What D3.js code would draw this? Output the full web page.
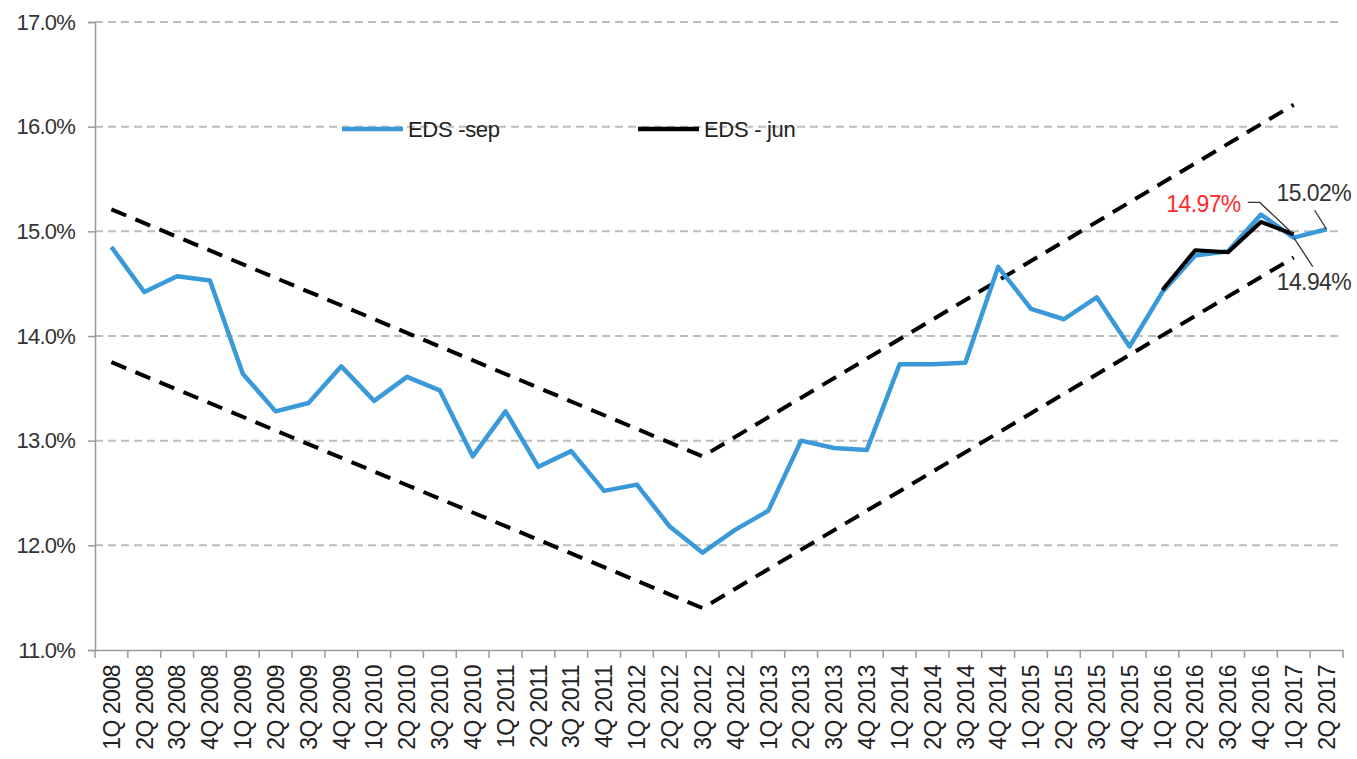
<!DOCTYPE html>
<html>
<head>
<meta charset="utf-8">
<script src="https://cdn.jsdelivr.net/npm/d3@7"></script>
<style>
    body { margin: 0; background: #fff; }
    svg { font-family: "Liberation Sans", Arial, sans-serif; }
</style>
</head>
<body>
<svg width="1357" height="759"></svg>
<script>
const quarters = [
    "1Q 2008", "2Q 2008", "3Q 2008", "4Q 2008",
    "1Q 2009", "2Q 2009", "3Q 2009", "4Q 2009",
    "1Q 2010", "2Q 2010", "3Q 2010", "4Q 2010",
    "1Q 2011", "2Q 2011", "3Q 2011", "4Q 2011",
    "1Q 2012", "2Q 2012", "3Q 2012", "4Q 2012",
    "1Q 2013", "2Q 2013", "3Q 2013", "4Q 2013",
    "1Q 2014", "2Q 2014", "3Q 2014", "4Q 2014",
    "1Q 2015", "2Q 2015", "3Q 2015", "4Q 2015",
    "1Q 2016", "2Q 2016", "3Q 2016", "4Q 2016",
    "1Q 2017", "2Q 2017"
];

// EDS - sep (blue), one value per quarter
const edsSep = [
    14.85, 14.42, 14.57, 14.53,
    13.64, 13.28, 13.36, 13.71,
    13.38, 13.61, 13.48, 12.85,
    13.28, 12.75, 12.90, 12.52,
    12.58, 12.18, 11.93, 12.15,
    12.33, 13.00, 12.93, 12.91,
    13.73, 13.73, 13.745, 14.66,
    14.26, 14.16, 14.37, 13.90,
    14.42, 14.77, 14.81, 15.16,
    14.94, 15.02
];

// EDS - jun (black), only 1Q 2016 .. 1Q 2017
const junQuarters = ["1Q 2016", "2Q 2016", "3Q 2016", "4Q 2016", "1Q 2017"];
const edsJun = [14.44, 14.82, 14.80, 15.09, 14.97];

// dashed channel
const trendQuarters = ["1Q 2008", "3Q 2012", "1Q 2017"];
const trendUpper = [15.21, 12.85, 16.21];
const trendLower = [13.75, 11.40, 14.75];

const yTicks = [11, 12, 13, 14, 15, 16, 17];

const svg = d3.select("svg");
const plotLeft = 95, plotRight = 1343, plotTop = 22, plotBottom = 650;

const x = d3.scaleBand().domain(quarters).range([plotLeft, plotRight]);
const y = d3.scaleLinear().domain([11, 17]).range([plotBottom, plotTop]);
const cx = q => x(q) + x.bandwidth() / 2;
const fmt = v => v.toFixed(1) + "%";

// gridlines
svg.append("g")
    .selectAll("line")
    .data(yTicks.filter(d => d > 11))
    .join("line")
    .attr("x1", plotLeft).attr("x2", plotRight)
    .attr("y1", d => y(d)).attr("y2", d => y(d))
    .attr("stroke", "#bdbdbd")
    .attr("stroke-width", 2)
    .attr("stroke-dasharray", "8,5");

// y axis
const yAxis = svg.append("g")
    .attr("transform", `translate(${plotLeft},0)`)
    .call(d3.axisLeft(y).tickValues(yTicks).tickFormat(fmt).tickSize(7).tickPadding(13));
yAxis.select(".domain").attr("stroke", "#9a9a9a").attr("stroke-width", 1.5);
yAxis.selectAll(".tick line").attr("stroke", "#9a9a9a").attr("stroke-width", 1.5);
yAxis.selectAll(".tick text")
    .attr("font-size", 22)
    .attr("letter-spacing", -0.8)
    .attr("fill", "#333");

// x axis: labels at band centres, ticks at band edges
const xAxis = svg.append("g")
    .attr("transform", `translate(0,${plotBottom})`)
    .call(d3.axisBottom(x).tickSize(0).tickPadding(0));
xAxis.select(".domain").attr("stroke", "#9a9a9a").attr("stroke-width", 1.5);
xAxis.selectAll(".tick text")
    .attr("transform", "rotate(-90)")
    .attr("text-anchor", "end")
    .attr("x", -15)
    .attr("y", 0)
    .attr("dy", "0.36em")
    .attr("font-size", 23)
    .attr("letter-spacing", -0.5)
    .attr("fill", "#222");

const edges = quarters.map(q => x(q)).concat([plotRight]);
xAxis.append("g")
    .selectAll("line")
    .data(edges)
    .join("line")
    .attr("x1", d => d).attr("x2", d => d)
    .attr("y1", 0).attr("y2", 8)
    .attr("stroke", "#9a9a9a")
    .attr("stroke-width", 1.5);

// trend channel
const trendLine = d3.line().x(d => cx(d[0])).y(d => y(d[1]));
[trendUpper, trendLower].forEach(vals => {
    svg.append("path")
        .datum(trendQuarters.map((q, i) => [q, vals[i]]))
        .attr("d", trendLine)
        .attr("fill", "none")
        .attr("stroke", "#000")
        .attr("stroke-width", 4)
        .attr("stroke-dasharray", "16,10");
});

// series
const line = d3.line().x(d => cx(d[0])).y(d => y(d[1]));
svg.append("path")
    .datum(quarters.map((q, i) => [q, edsSep[i]]))
    .attr("d", line)
    .attr("fill", "none")
    .attr("stroke", "#3a9ad9")
    .attr("stroke-width", 4.5)
    .attr("stroke-linejoin", "round");

svg.append("path")
    .datum(junQuarters.map((q, i) => [q, edsJun[i]]))
    .attr("d", line)
    .attr("fill", "none")
    .attr("stroke", "#000")
    .attr("stroke-width", 4)
    .attr("stroke-linejoin", "round");

// legend
const legend = svg.append("g").attr("font-size", 22).attr("letter-spacing", -0.3).attr("fill", "#222");
[["EDS -sep", "#3a9ad9", 342], ["EDS - jun", "#000", 638]].forEach(([label, color, lx]) => {
    legend.append("line")
        .attr("x1", lx).attr("x2", lx + 61)
        .attr("y1", 129).attr("y2", 129)
        .attr("stroke", color).attr("stroke-width", 4.5);
    legend.append("text")
        .attr("x", lx + 66).attr("y", 137)
        .text(label);
});

// annotations
const ann = svg.append("g").attr("font-size", 23).attr("letter-spacing", -0.6);
const lastQ = "1Q 2017", endQ = "2Q 2017";

const pJun = [cx(lastQ), y(edsJun[edsJun.length - 1])];
ann.append("path")
    .attr("d", `M${pJun[0] - 46},${pJun[1] - 32}H${pJun[0] - 34}L${pJun[0]},${pJun[1]}`)
    .attr("fill", "none").attr("stroke", "#333").attr("stroke-width", 1.3);
ann.append("text")
    .attr("x", pJun[0] - 53).attr("y", pJun[1] - 22)
    .attr("text-anchor", "end")
    .attr("fill", "#ff2b2b")
    .text(edsJun[edsJun.length - 1].toFixed(2) + "%");

const pSep = [cx(lastQ), y(edsSep[quarters.indexOf(lastQ)])];
ann.append("line")
    .attr("x1", pSep[0]).attr("y1", pSep[1])
    .attr("x2", pSep[0] + 19).attr("y2", pSep[1] + 29)
    .attr("stroke", "#333").attr("stroke-width", 1.3);
ann.append("text")
    .attr("x", pSep[0] - 17).attr("y", pSep[1] + 52)
    .attr("fill", "#333")
    .text(edsSep[quarters.indexOf(lastQ)].toFixed(2) + "%");

const pEnd = [cx(endQ), y(edsSep[quarters.indexOf(endQ)])];
ann.append("line")
    .attr("x1", pEnd[0]).attr("y1", pEnd[1])
    .attr("x2", pEnd[0] - 12).attr("y2", pEnd[1] - 19)
    .attr("stroke", "#333").attr("stroke-width", 1.3);
ann.append("text")
    .attr("x", pEnd[0] - 50).attr("y", pEnd[1] - 28)
    .attr("fill", "#333")
    .text(edsSep[quarters.indexOf(endQ)].toFixed(2) + "%");
</script>
</body>
</html>
